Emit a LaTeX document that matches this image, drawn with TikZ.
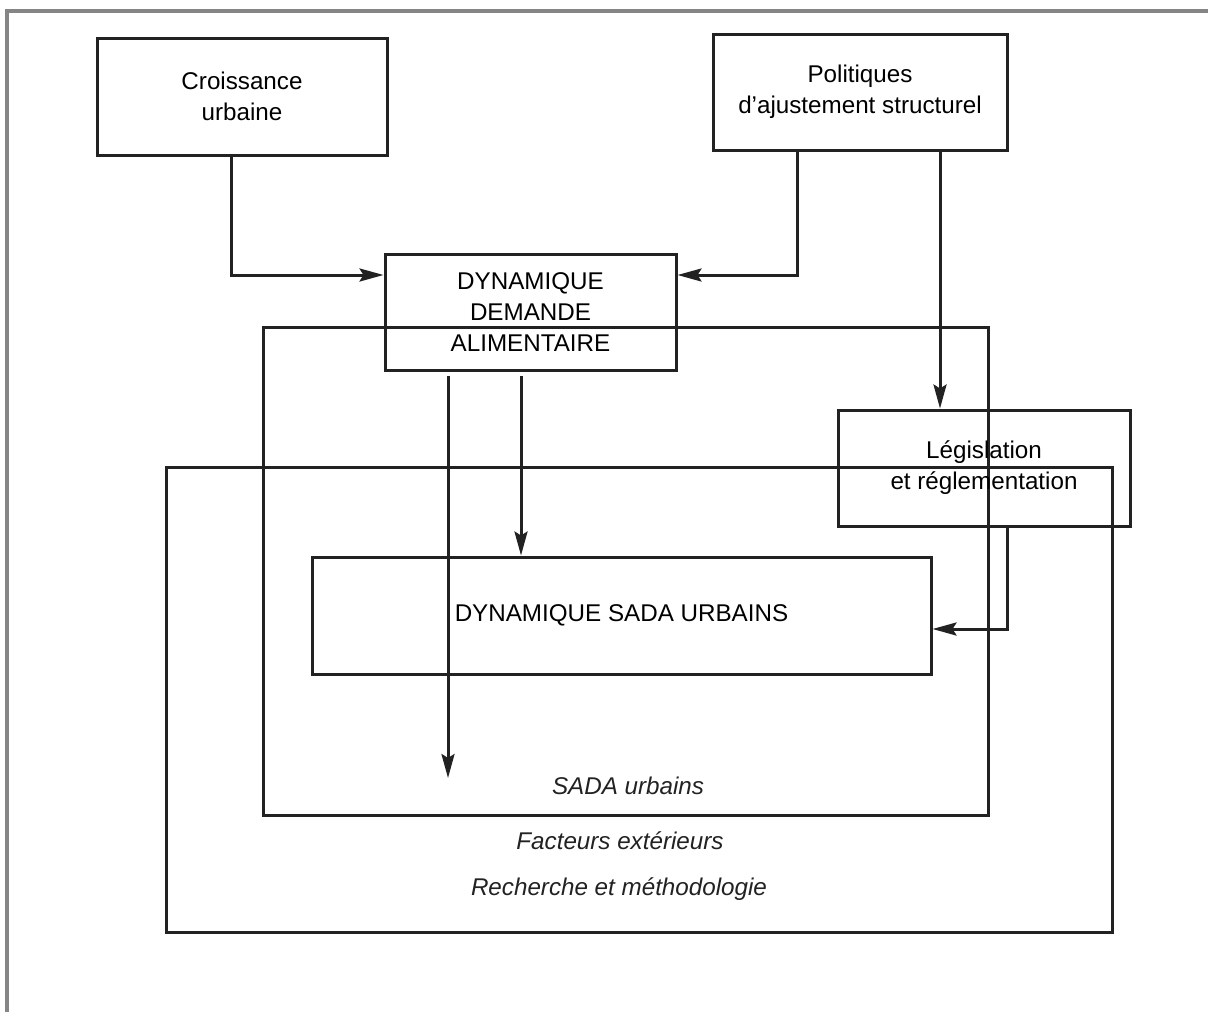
\documentclass[tikz,border=0pt]{standalone}
\usepackage{fontspec}
\setmainfont{Liberation Sans}
\usetikzlibrary{arrows.meta}
\definecolor{ink}{HTML}{222222}
\definecolor{frame}{HTML}{858585}
\begin{document}
\begin{tikzpicture}[x=0.5pt,y=-0.5pt,
  box/.style={draw=ink,line width=1.5pt,inner sep=0pt,align=center,
    font=\fontsize{12.1}{15.5}\selectfont},
  lbl/.style={font=\fontsize{12.1}{15.5}\selectfont\itshape,text=ink},
  flow/.style={draw=ink,line width=1.5pt,-{Stealth[length=12pt,width=6.5pt,inset=2pt]}}]
\useasboundingbox (0,0) rectangle (1208,1012);
\draw[frame,line width=1.6pt] (7,1012) -- (7,11) -- (1208,11);
% outer frames
\node[box,minimum width=473pt,minimum height=232.5pt] (research) at (639,699.5) {};
\node[box,minimum width=362.5pt,minimum height=244pt] (sada) at (625.5,571) {};
\node[lbl] (sadalbl) at (628,786) {SADA urbains};
\node[lbl] (extlbl) at (620,841) {Facteurs extérieurs};
\node[lbl] (reslbl) at (619,889) {Recherche et méthodologie};
% boxes
\node[box,minimum width=145pt,minimum height=58.5pt] (grow) at (242,96.5) {Croissance\\urbaine};
\node[box,minimum width=147pt,minimum height=58pt] (sap) at (860,92) {Politiques\\d’ajustement structurel};
\node[box,minimum width=145.5pt,minimum height=58pt] (demande) at (530.5,312) {DYNAMIQUE\\DEMANDE\\ALIMENTAIRE};
\node[box,minimum width=146pt,minimum height=58pt] (legis) at (984,468) {Législation\\et réglementation};
\node[box,minimum width=309.5pt,minimum height=58.5pt] (dynsada) at (621.5,615.5) {DYNAMIQUE SADA URBAINS};
\coordinate (free) at (448,778);
% connectors
\draw[flow] ([xshift=-5.5pt]grow.south) |- ([yshift=18.5pt]demande.west);
\draw[flow] ([xshift=-31.5pt]sap.south) |- ([yshift=18.5pt]demande.east);
\draw[flow] ([xshift=40pt]sap.south) -- ([xshift=40pt]sap.south |- legis.north);
\draw[flow,shorten <=2pt] (demande.south -| free) -- (free);
\draw[flow,shorten <=2pt] ([xshift=-4.75pt]demande.south) -- ([xshift=-4.75pt]demande.south |- dynsada.north);
\draw[flow] ([xshift=11.5pt]legis.south) |- ([yshift=-6.75pt]dynsada.east);
\end{tikzpicture}
\end{document}
